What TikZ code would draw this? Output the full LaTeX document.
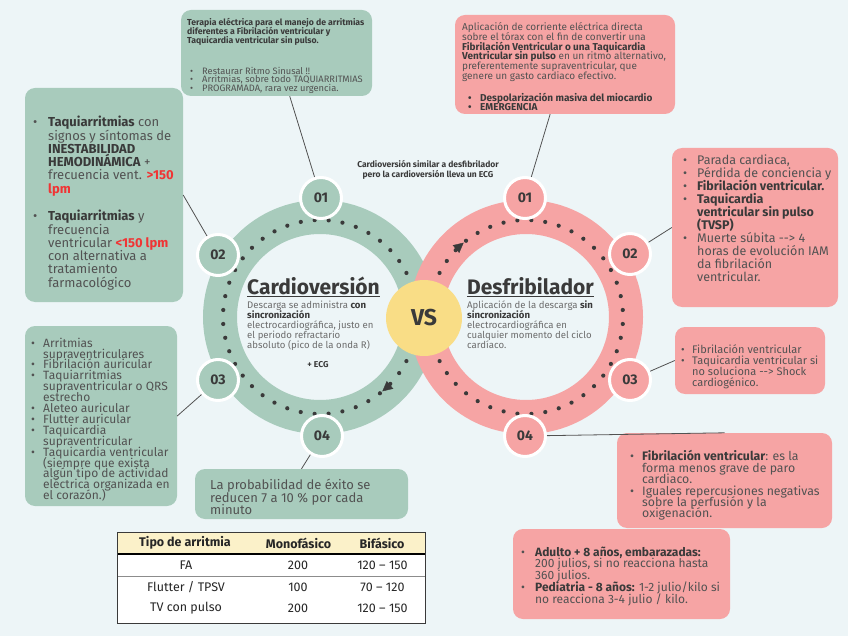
\documentclass[tikz,border=0pt]{standalone}
\usepackage{fontspec}
\setmainfont{Fira Sans}
\usetikzlibrary{arrows.meta}

\definecolor{fondo}{RGB}{237,245,247}
\definecolor{salvia}{RGB}{168,203,188}
\definecolor{rosa}{RGB}{246,164,164}
\definecolor{amarillo}{RGB}{249,221,134}
\definecolor{crema}{RGB}{251,241,201}
\definecolor{tinta}{RGB}{58,58,58}
\definecolor{gris}{RGB}{82,82,82}
\definecolor{grisclaro}{RGB}{108,108,108}
\definecolor{rojo}{RGB}{240,52,52}

\setlength{\lineskiplimit}{-50pt}

\newcommand{\bul}[1][11pt]{\makebox[#1][l]{\textbullet}}
\newcommand{\ind}[1][11pt]{\hspace*{#1}}
\newcommand{\fuerte}[1]{\textcolor{tinta}{\textbf{#1}}}

\tikzset{
  caja/.style={rounded corners=10pt, inner sep=0pt},
  badge/.style={circle, draw=white, line width=3pt, minimum size=41pt, inner sep=0pt,
    text=tinta, font=\bfseries\fontsize{14}{14}\selectfont},
  texto/.style={inner sep=0pt, anchor=north west, align=left, text=gris},
  celda/.style={inner sep=0pt, text=black!85, font=\fontsize{12.5}{12.5}\selectfont},
  enlace/.style={draw=gris, line width=0.8pt},
  puntos/.style={tinta, line width=4.2pt, line cap=round, dash pattern=on 0pt off 14pt},
  flecha/.style={tinta, line width=0.4pt, -{Triangle[length=10pt,width=10pt]}},
}

\begin{document}
\begin{tikzpicture}[x=1pt,y=-1pt]

\fill[fondo] (0,0) rectangle (848,636);
\useasboundingbox (0,0) rectangle (848,636);

\node[caja, fill=salvia, minimum width=191pt, minimum height=86pt] (tcaja) at (276.5,53) {};
\node[caja, fill=rosa, minimum width=220pt, minimum height=99pt] (trcaja) at (565,64.5) {};
\node[caja, fill=salvia, minimum width=158pt, minimum height=214pt] (lcaja1) at (104,195) {};
\node[caja, fill=salvia, minimum width=152pt, minimum height=180pt] (lcaja2) at (101,416) {};
\node[caja, fill=salvia, minimum width=213pt, minimum height=50pt] (bcaja) at (301.5,494) {};
\node[caja, fill=rosa, minimum width=166pt, minimum height=159pt] (rcaja1) at (755,227.5) {};
\node[caja, fill=rosa, minimum width=150pt, minimum height=67pt] (rcaja2) at (750,360.5) {};
\node[caja, fill=rosa, minimum width=215pt, minimum height=95pt] (rcaja3) at (724.5,480.5) {};
\node[caja, fill=rosa, minimum width=217pt, minimum height=90pt] (rcaja4) at (621.5,574) {};

\coordinate (lc) at (320,317);
\coordinate (rc) at (526,317);
\draw[salvia, line width=34pt] (lc) circle (100);
\draw[rosa, line width=34pt] (rc) circle (100);

\draw[puntos] ([shift={(-27:97)}]lc) arc (-27:-333:97);
\draw[puntos] ([shift={(-153:97)}]rc) arc (-153:153:97);
\draw[flecha] ([shift={(43:97)}]lc) arc (43:50:97);
\draw[flecha] ([shift={(-137:97)}]rc) arc (-137:-130:97);

\node[circle, fill=amarillo, minimum size=76pt, text=tinta,
  font=\bfseries\fontsize{23}{23}\selectfont] (vs) at (424,318) {VS};

\node[badge, fill=salvia] (l01) at (321,198) {01};
\node[badge, fill=salvia] (l02) at (218,255) {02};
\node[badge, fill=salvia] (l03) at (218,380) {03};
\node[badge, fill=salvia] (l04) at (322,436) {04};
\node[badge, fill=rosa] (r01) at (525,198) {01};
\node[badge, fill=rosa] (r02) at (630,254) {02};
\node[badge, fill=rosa] (r03) at (630,380) {03};
\node[badge, fill=rosa] (r04) at (525,436) {04};

\draw[enlace] (l01) -- (tcaja);
\draw[enlace] (l02) -- (lcaja1.east);
\draw[enlace] (l03) -- (lcaja2.east);
\draw[enlace] (l04) -- (bcaja.north);
\draw[enlace] (r01) -- (trcaja);
\draw[enlace] (r02) -- (rcaja1.west);
\draw[enlace] (r03) -- (rcaja2.west);
\draw[enlace] (r04) -- (rcaja3.north);

\node[texto, text=tinta, font=\bfseries\fontsize{8.7}{9.2}\selectfont] (ttitulo) at (187,18)
  {Terapia eléctrica para el manejo de arritmias\\diferentes a Fibrilación ventricular y\\Taquicardia ventricular sin pulso.};
\node[texto, font=\fontsize{9.3}{8.4}\selectfont] (tlista) at (190,67)
  {\bul[12pt]Restaurar Ritmo Sinusal !!\\\bul[12pt]Arritmias, sobre todo TAQUIARRITMIAS\\\bul[12pt]PROGRAMADA, rara vez urgencia.};

\node[texto, font=\fontsize{10}{9.7}\selectfont] (trtexto) at (462,22.5)
  {Aplicación de corriente eléctrica directa\\sobre el tórax con el fin de convertir una\\\fuerte{Fibrilación Ventricular o una Taquicardia}\\\fuerte{Ventricular sin pulso} en un ritmo alternativo,\\preferentemente supraventricular, que\\genere un gasto cardiaco efectivo.};
\node[texto, text=tinta, font=\bfseries\fontsize{10}{9.7}\selectfont] (trlista) at (468,92.5)
  {\bul[12pt]Despolarización masiva del miocardio\\\bul[12pt]EMERGENCIA};

\node[texto, font=\fontsize{13}{13.3}\selectfont] (ltexto1) at (33,116)
  {\bul[15pt]\fuerte{Taquiarritmias} con\\\ind[15pt]signos y síntomas de\\\ind[15pt]\fuerte{INESTABILIDAD}\\\ind[15pt]\fuerte{HEMODINÁMICA} +\\\ind[15pt]frecuencia vent. \textcolor{rojo}{\textbf{>150}}\\\ind[15pt]\textcolor{rojo}{\textbf{lpm}}};
\node[texto, font=\fontsize{13}{13.3}\selectfont] (ltexto2) at (33,210)
  {\bul[15pt]\fuerte{Taquiarritmias} y\\\ind[15pt]frecuencia\\\ind[15pt]ventricular \textcolor{rojo}{\textbf{<150 lpm}}\\\ind[15pt]con alternativa a\\\ind[15pt]tratamiento\\\ind[15pt]farmacológico};

\node[texto, font=\fontsize{12}{10.9}\selectfont] (ltexto3) at (31,337.6)
  {\bul[12pt]Arritmias\\\ind[12pt]supraventriculares\\\bul[12pt]Fibrilación auricular\\\bul[12pt]Taquiarritmias\\\ind[12pt]supraventricular o QRS\\\ind[12pt]estrecho\\\bul[12pt]Aleteo auricular\\\bul[12pt]Flutter auricular\\\bul[12pt]Taquicardia\\\ind[12pt]supraventricular\\\bul[12pt]Taquicardia ventricular\\\ind[12pt](siempre que exista\\\ind[12pt]algún tipo de actividad\\\ind[12pt]eléctrica organizada en\\\ind[12pt]el corazón.)};

\node[texto, font=\fontsize{13}{12.5}\selectfont] (btexto) at (210,479)
  {La probabilidad de éxito se\\reducen 7 a 10 \% por cada\\minuto};

\node[texto, font=\fontsize{12.5}{13}\selectfont] (rtexto1) at (683,155)
  {\bul[14pt]Parada cardiaca,\\\bul[14pt]Pérdida de conciencia y\\\bul[14pt]\fuerte{Fibrilación ventricular.}\\\bul[14pt]\fuerte{Taquicardia}\\\ind[14pt]\fuerte{ventricular sin pulso}\\\ind[14pt]\fuerte{(TVSP)}\\\bul[14pt]Muerte súbita -{}-> 4\\\ind[14pt]horas de evolución IAM\\\ind[14pt]da fibrilación\\\ind[14pt]ventricular.};

\node[texto, font=\fontsize{11}{11.3}\selectfont] (rtexto2) at (681,344)
  {\bul[11pt]Fibrilación ventricular\\\bul[11pt]Taquicardia ventricular si\\\ind[11pt]no soluciona -{}-> Shock\\\ind[11pt]cardiogénico.};

\node[texto, font=\fontsize{12.3}{11.4}\selectfont] (rtexto3) at (630,450.5)
  {\bul[12pt]\fuerte{Fibrilación ventricular}: es la\\\ind[12pt]forma menos grave de paro\\\ind[12pt]cardiaco.\\\bul[12pt]Iguales repercusiones negativas\\\ind[12pt]sobre la perfusión y la\\\ind[12pt]oxigenación.};

\node[texto, font=\fontsize{12}{11.7}\selectfont] (rtexto4) at (521,546.5)
  {\bul[14pt]\fuerte{Adulto + 8 años, embarazadas:}\\\ind[14pt]200 julios, si no reacciona hasta\\\ind[14pt]360 julios.\\\bul[14pt]\fuerte{Pediatria - 8 años:} 1-2 julio/kilo si\\\ind[14pt]no reacciona 3-4 julio / kilo.};

\node[text=tinta, align=center, font=\bfseries\fontsize{8.5}{9.8}\selectfont] (nota) at (428,170)
  {Cardioversión similar a desfibrilador\\pero la cardioversión lleva un ECG};

\node[anchor=base west, inner sep=0pt, text=tinta, font=\bfseries\fontsize{21}{21}\selectfont] (ctitulo) at (247,294) {\underline{Cardioversión}};
\node[texto, text=grisclaro, font=\fontsize{9.6}{10}\selectfont] (cdesc) at (247,300.7)
  {Descarga se administra \fuerte{con}\\\fuerte{sincronización}\\electrocardiográfica, justo en\\el periodo refractario\\absoluto (pico de la onda R)};
\node[text=tinta, font=\bfseries\fontsize{8.5}{8.5}\selectfont] (ecg) at (318,365) {+ ECG};

\node[anchor=base west, inner sep=0pt, text=tinta, font=\bfseries\fontsize{21}{21}\selectfont] (dtitulo) at (467,294) {\underline{Desfribilador}};
\node[texto, text=grisclaro, font=\fontsize{9.6}{10}\selectfont] (ddesc) at (467,300.7)
  {Aplicación de la descarga \fuerte{sin}\\\fuerte{sincronización}\\electrocardiográfica en\\cualquier momento del ciclo\\cardíaco.};

\fill[white] (117,532) rectangle (425,623);
\fill[crema] (117,532) rectangle (425,554);
\draw[black, line width=1.3pt] (117,554) -- (425,554);
\draw[black!45, line width=0.8pt] (117,576.5) -- (425,576.5);
\draw[tinta, line width=0.8pt] (117,532) rectangle (425,623);

\node[celda, font=\bfseries\fontsize{12.5}{12.5}\selectfont] (h1) at (185,543) {Tipo de arritmia};
\node[celda, font=\bfseries\fontsize{12.5}{12.5}\selectfont] (h2) at (298.5,543) {Monofásico};
\node[celda, font=\bfseries\fontsize{12.5}{12.5}\selectfont] (h3) at (382,543) {Bifásico};
\node[celda] (a1) at (186,565) {FA};
\node[celda] (a2) at (298,565) {200};
\node[celda] (a3) at (382.5,565) {120 -- 150};
\node[celda] (b1) at (186,587) {Flutter / TPSV};
\node[celda] (b2) at (298,587) {100};
\node[celda] (b3) at (382.5,587) {70 -- 120};
\node[celda] (c1) at (186,608) {TV con pulso};
\node[celda] (c2) at (298,608) {200};
\node[celda] (c3) at (382.5,608) {120 -- 150};

\end{tikzpicture}
\end{document}
